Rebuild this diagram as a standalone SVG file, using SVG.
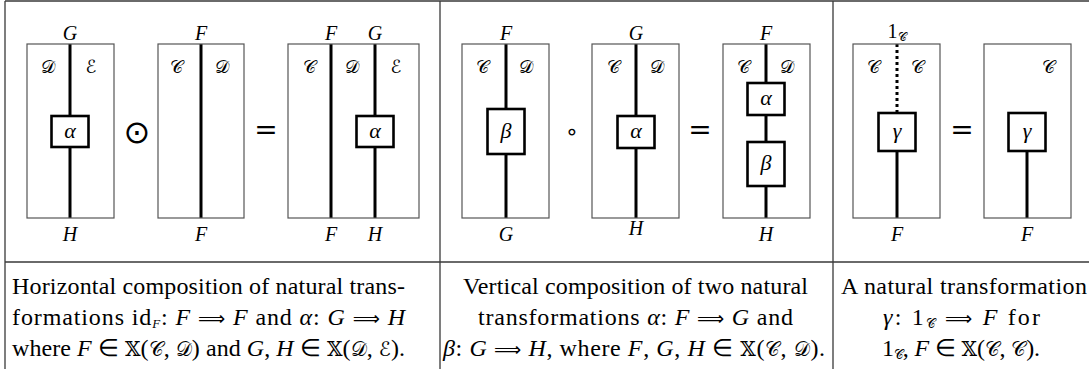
<svg xmlns="http://www.w3.org/2000/svg" width="1089" height="369" viewBox="0 0 1089 369">
<style>
.bg{fill:#fff}
.tbl{fill:none;stroke:#3a3a3a;stroke-width:1.3}
.frame{fill:none;stroke:#555;stroke-width:1.2}
.wire{stroke:#000;stroke-width:3;fill:none}
.dot{stroke:#000;stroke-width:3;stroke-dasharray:3 3;fill:none}
.node{fill:#fff;stroke:#000;stroke-width:2.6}
.lbl{font-family:"Liberation Serif",serif;font-style:italic;font-size:20px;text-anchor:middle;fill:#000}
.nl{font-size:22px}
.cat{font-family:"DejaVu Serif","DejaVu Sans",serif;font-size:18px;text-anchor:middle;fill:#000}
.op{font-family:"DejaVu Sans",sans-serif;font-size:28px;text-anchor:middle;fill:#000}
.cap{font-family:"Liberation Serif",serif;font-size:24px;fill:#000}
.it{font-style:italic}
.sym{font-family:"DejaVu Sans",sans-serif;font-size:19px}
.scr{font-family:"DejaVu Serif","DejaVu Sans",serif;font-size:20px}
.sub{font-size:13px}
</style>
<rect class="bg" x="0" y="0" width="1089" height="369"/>
<g id="table">
<path class="tbl" d="M5,1H1089M5,1V369M440,1V369M833,1V369M5,262H1089"/>
</g>
<g id="connectors">
<path class="wire" d="M70,44V116M70,147V218"/>
<path class="wire" d="M201,44V218"/>
<path class="wire" d="M331,44V218M375,44V116M375,147V218"/>
<path class="wire" d="M506,44V109M506,154V218"/>
<path class="wire" d="M636,44V116M636,148V218"/>
<path class="wire" d="M766,44V83M766,115V142M766,186V218"/>
<path class="dot" d="M897,44V113"/>
<path class="wire" d="M897,151V218"/>
<path class="wire" d="M1027,151V218"/>
</g>
<g id="panel1">
<g id="p1d1"><rect class="frame" x="27" y="44" width="87" height="174"/>
<text class="cat" x="48" y="73">𝒟</text><text class="cat" x="91" y="73">ℰ</text>
<text class="lbl" x="70" y="40">G</text><text class="lbl" x="70" y="241">H</text></g>
<g id="p1alpha1"><rect class="node" x="51.5" y="116" width="37" height="31"/><text class="lbl nl" x="70" y="138">α</text></g>
<text class="op" x="137" y="143" style="font-size:32px">⊙</text>
<g id="p1d2"><rect class="frame" x="158" y="44" width="86" height="174"/>
<text class="cat" x="176" y="73">𝒞</text><text class="cat" x="222" y="73">𝒟</text>
<text class="lbl" x="201" y="40">F</text><text class="lbl" x="201" y="241">F</text></g>
<text class="op" x="266" y="139">=</text>
<g id="p1d3"><rect class="frame" x="288" y="44" width="131" height="174"/>
<text class="cat" x="309" y="73">𝒞</text><text class="cat" x="352" y="73">𝒟</text><text class="cat" x="396" y="73">ℰ</text>
<text class="lbl" x="331" y="40">F</text><text class="lbl" x="375" y="40">G</text>
<text class="lbl" x="331" y="241">F</text><text class="lbl" x="375" y="241">H</text></g>
<g id="p1alpha2"><rect class="node" x="356.5" y="116" width="37" height="31"/><text class="lbl nl" x="375" y="138">α</text></g>
</g>
<g id="panel2">
<g id="p2d1"><rect class="frame" x="462" y="44" width="87" height="174"/>
<text class="cat" x="482" y="73">𝒞</text><text class="cat" x="526" y="73">𝒟</text>
<text class="lbl" x="506" y="40">F</text><text class="lbl" x="506" y="241">G</text></g>
<g id="p2beta1"><rect class="node" x="487.5" y="109" width="37" height="45"/><text class="lbl nl" x="506" y="138">β</text></g>
<text class="op" x="572" y="139" style="font-size:22px">∘</text>
<g id="p2d2"><rect class="frame" x="592" y="44" width="87" height="174"/>
<text class="cat" x="613" y="73">𝒞</text><text class="cat" x="657" y="73">𝒟</text>
<text class="lbl" x="636" y="40">G</text><text class="lbl" x="636" y="235">H</text></g>
<g id="p2alpha1"><rect class="node" x="617.5" y="116" width="37" height="32"/><text class="lbl nl" x="636" y="138">α</text></g>
<text class="op" x="700" y="139">=</text>
<g id="p2d3"><rect class="frame" x="723" y="44" width="87" height="174"/>
<text class="cat" x="743" y="73">𝒞</text><text class="cat" x="787" y="73">𝒟</text>
<text class="lbl" x="766" y="40">F</text><text class="lbl" x="766" y="241">H</text></g>
<g id="p2alpha2"><rect class="node" x="747.5" y="83" width="37" height="32"/><text class="lbl nl" x="766" y="105">α</text></g>
<g id="p2beta2"><rect class="node" x="747.5" y="142" width="37" height="44"/><text class="lbl nl" x="766" y="170">β</text></g>
</g>
<g id="panel3">
<g id="p3d1"><rect class="frame" x="853" y="44" width="87" height="174"/>
<text class="cat" x="873" y="73">𝒞</text><text class="cat" x="917" y="73">𝒞</text>
<text class="lbl" x="897" y="38" style="font-style:normal">1<tspan class="cat" style="font-size:12px" dy="3">𝒞</tspan></text>
<text class="lbl" x="897" y="241">F</text></g>
<g id="p3gamma1"><rect class="node" x="878.5" y="113" width="37" height="38"/><text class="lbl nl" x="897" y="138">γ</text></g>
<text class="op" x="962" y="139">=</text>
<g id="p3d2"><rect class="frame" x="984" y="44" width="87" height="174"/>
<text class="cat" x="1048" y="73">𝒞</text>
<text class="lbl" x="1027" y="241">F</text></g>
<g id="p3gamma2"><rect class="node" x="1008.5" y="113" width="37" height="38"/><text class="lbl nl" x="1027" y="138">γ</text></g>
</g>
<g id="captions">
<text class="cap" x="12" y="294" textLength="393" lengthAdjust="spacing">Horizontal composition of natural trans-</text>
<text class="cap" x="12" y="325" textLength="393" lengthAdjust="spacing">formations id<tspan class="it sub" dy="3">F</tspan><tspan dy="-3">: </tspan><tspan class="it">F</tspan> <tspan class="sym">⟹</tspan> <tspan class="it">F</tspan> and <tspan class="it">α</tspan>: <tspan class="it">G</tspan> <tspan class="sym">⟹</tspan> <tspan class="it">H</tspan></text>
<text class="cap" x="12" y="356" textLength="393" lengthAdjust="spacing">where <tspan class="it">F</tspan> ∈ <tspan class="scr">𝕏</tspan>(<tspan class="scr">𝒞</tspan>, <tspan class="scr">𝒟</tspan>) and <tspan class="it">G</tspan>, <tspan class="it">H</tspan> ∈ <tspan class="scr">𝕏</tspan>(<tspan class="scr">𝒟</tspan>, <tspan class="scr">ℰ</tspan>).</text>
<text class="cap" x="463" y="294" textLength="345" lengthAdjust="spacing">Vertical composition of two natural</text>
<text class="cap" x="478" y="325" textLength="315" lengthAdjust="spacing">transformations <tspan class="it">α</tspan>: <tspan class="it">F</tspan> <tspan class="sym">⟹</tspan> <tspan class="it">G</tspan> and</text>
<text class="cap" x="443" y="356" textLength="382" lengthAdjust="spacing"><tspan class="it">β</tspan>: <tspan class="it">G</tspan> <tspan class="sym">⟹</tspan> <tspan class="it">H</tspan>, where <tspan class="it">F</tspan>, <tspan class="it">G</tspan>, <tspan class="it">H</tspan> ∈ <tspan class="scr">𝕏</tspan>(<tspan class="scr">𝒞</tspan>, <tspan class="scr">𝒟</tspan>).</text>
<text class="cap" x="841" y="294" textLength="246" lengthAdjust="spacing">A natural transformation</text>
<text class="cap" x="883" y="325" textLength="157" lengthAdjust="spacing"><tspan class="it">γ</tspan>: 1<tspan class="scr sub" dy="3">𝒞</tspan><tspan dy="-3"> </tspan><tspan class="sym">⟹</tspan> <tspan class="it">F</tspan> for</text>
<text class="cap" x="882" y="356" textLength="158" lengthAdjust="spacing">1<tspan class="scr sub" dy="3">𝒞</tspan><tspan dy="-3">, </tspan><tspan class="it">F</tspan> ∈ <tspan class="scr">𝕏</tspan>(<tspan class="scr">𝒞</tspan>, <tspan class="scr">𝒞</tspan>).</text>
</g>
</svg>
